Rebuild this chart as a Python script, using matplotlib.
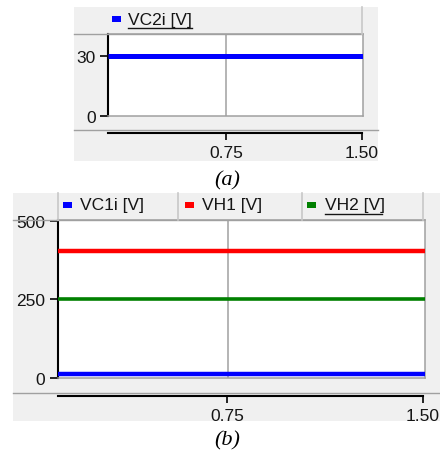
import matplotlib
matplotlib.use("Agg")
import matplotlib.pyplot as plt
from matplotlib.patches import Rectangle
from matplotlib.lines import Line2D

# ---- data ----
time_a = [0.1, 1.5]
vc2i = [30, 30]
time_b = [0.1, 1.5]
vc1i = [14, 14]
vh1 = [402, 402]
vh2 = [251, 251]
xticks = [0.75, 1.50]
xticklabels = ["0.75", "1.50"]
yticks_a = [0, 30]
yticks_b = [0, 250, 500]
legend_a = ["VC2i [V]"]
legend_b = ["VC1i [V]", "VH1 [V]", "VH2 [V]"]
colors_b = ["#0000ff", "#ff0000", "#008000"]

W, H = 440, 452
plt.rcParams["font.family"] = ["Liberation Sans", "DejaVu Sans"]
fig = plt.figure(figsize=(W / 100, H / 100), dpi=100)
fig.patch.set_facecolor("white")

BG = "#f0f0f0"
BORDER = "#a0a0a0"
DIV = "#c8c8c8"
TXT = "#151515"


def fx(x):
    return x / W


def fy(y):
    return 1 - y / H


def rect(x0, y0, x1, y1, color, z=0):
    fig.add_artist(Rectangle((fx(x0), fy(y1)), fx(x1) - fx(x0), fy(y0) - fy(y1),
                             transform=fig.transFigure, facecolor=color,
                             edgecolor="none", zorder=z))


def hline(x0, x1, y, color, lw, z=1):
    fig.add_artist(Line2D([fx(x0), fx(x1)], [fy(y), fy(y)], transform=fig.transFigure,
                          color=color, lw=lw, zorder=z))


def vline(x, y0, y1, color, lw, z=1):
    fig.add_artist(Line2D([fx(x), fx(x)], [fy(y0), fy(y1)], transform=fig.transFigure,
                          color=color, lw=lw, zorder=z))


def plot_axes(x0, y0, x1, y1):
    ax = fig.add_axes([fx(x0), fy(y1), fx(x1) - fx(x0), fy(y0) - fy(y1)])
    ax.set_facecolor("white")
    for s in ["top", "right", "bottom"]:
        ax.spines[s].set_color(BORDER)
        ax.spines[s].set_linewidth(1.1)
    ax.spines["left"].set_color("black")
    ax.spines["left"].set_linewidth(1.5)
    ax.tick_params(axis="y", direction="out", length=6, width=1.2, pad=3,
                   labelsize=12.5, labelcolor=TXT)
    ax.tick_params(axis="x", bottom=False, labelbottom=False)
    ax.set_xlim(0.1, 1.5)
    ax.axvline(0.75, color=BORDER, lw=1.1, zorder=1)
    return ax


def xaxis_axes(x0, x1, y):
    ax = fig.add_axes([fx(x0), fy(y), fx(x1) - fx(x0), 0.0001])
    ax.patch.set_visible(False)
    for s in ["top", "right", "left"]:
        ax.spines[s].set_visible(False)
    ax.spines["bottom"].set_linewidth(1.5)
    ax.set_yticks([])
    ax.set_xlim(0.1, 1.5)
    ax.set_xticks(xticks)
    ax.set_xticklabels(xticklabels)
    ax.tick_params(axis="x", direction="out", length=5, width=1.2, pad=4,
                   labelsize=12.5, labelcolor=TXT)
    return ax


def legend_item(xm, ym, xt, label, color, underline=False, tw=0):
    rect(xm, ym - 3, xm + 9, ym + 3, color, z=3)
    fig.text(fx(xt), fy(ym), label, ha="left", va="center", fontsize=12.5,
             color=TXT, zorder=3)
    if underline:
        hline(xt, xt + tw, ym + 9, TXT, 1.0, z=3)


# ===== panel (a) =====
rect(74, 8, 378, 162, BG)
hline(74, 362, 35, BORDER, 1.0)
vline(362, 8, 35, DIV, 1.2)
hline(74, 378, 131, BORDER, 1.0)
legend_item(112, 20, 128, legend_a[0], "#0000ff", underline=True, tw=64)

ax_a = plot_axes(108, 35, 363, 117)
ax_a.plot(time_a, vc2i, color="#0000ff", lw=3.6, solid_capstyle="butt", zorder=3)
ax_a.set_ylim(0, 41)
ax_a.set_yticks(yticks_a)
xaxis_axes(108, 362, 134)
fig.text(fx(227), fy(181), "(a)", ha="center", va="center", fontsize=16,
         family="Liberation Serif", style="italic")

# ===== panel (b) =====
rect(13, 194, 440, 422, BG)
hline(13, 423, 221, BORDER, 1.0)
for xd in [58, 178, 302, 423]:
    vline(xd, 194, 221, DIV, 1.2)
hline(13, 440, 394, BORDER, 1.0)
legend_item(63, 206, 80, legend_b[0], colors_b[0])
legend_item(185, 206, 202, legend_b[1], colors_b[1])
legend_item(307, 206, 325, legend_b[2], colors_b[2], underline=True, tw=57)

ax_b = plot_axes(58, 221, 425, 379)
for vals, c, lw in zip([vc1i, vh1, vh2], colors_b, [3.2, 3.2, 2.6]):
    ax_b.plot(time_b, vals, color=c, lw=lw, solid_capstyle="butt", zorder=3)
ax_b.set_ylim(0, 502)
ax_b.set_yticks(yticks_b)
xaxis_axes(58, 423, 397)
fig.text(fx(227), fy(441), "(b)", ha="center", va="center", fontsize=16,
         family="Liberation Serif", style="italic")

fig.savefig("out.png", dpi=100, facecolor="white")
